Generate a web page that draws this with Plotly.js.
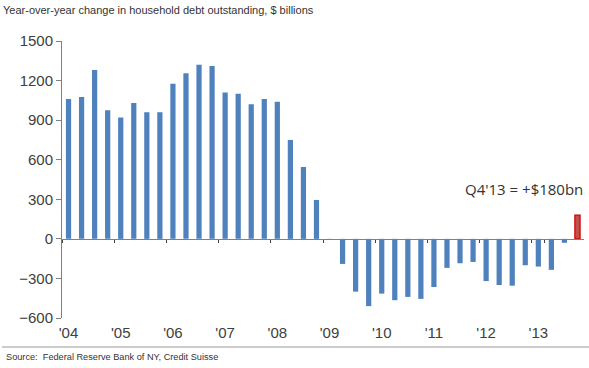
<!DOCTYPE html>
<html>
<head>
<meta charset="utf-8">
<script src="https://cdn.plot.ly/plotly-3.0.1.min.js"></script>
<style>
  html, body { margin: 0; padding: 0; background: #ffffff; }
  #chart { width: 589px; height: 368px; }
</style>
</head>
<body>
<div id="chart"></div>
<script>
// Quarterly categories, Q1 2004 .. Q4 2013
const quarters = [
  "Q1'04","Q2'04","Q3'04","Q4'04",
  "Q1'05","Q2'05","Q3'05","Q4'05",
  "Q1'06","Q2'06","Q3'06","Q4'06",
  "Q1'07","Q2'07","Q3'07","Q4'07",
  "Q1'08","Q2'08","Q3'08","Q4'08",
  "Q1'09","Q2'09","Q3'09","Q4'09",
  "Q1'10","Q2'10","Q3'10","Q4'10",
  "Q1'11","Q2'11","Q3'11","Q4'11",
  "Q1'12","Q2'12","Q3'12","Q4'12",
  "Q1'13","Q2'13","Q3'13","Q4'13"
];

// Year-over-year change in household debt outstanding, $ billions
const yoyChange = [
  1060, 1075, 1280, 975,
  920, 1030, 960, 960,
  1175, 1255, 1320, 1310,
  1110, 1100, 1020, 1060,
  1040, 750, 545, 295,
  -6, -190, -400, -510,
  -415, -465, -440, -455,
  -365, -220, -185, -175,
  -320, -350, -355, -200,
  -210, -235, -30, 180
];

// Year tick labels, placed on the first quarter of each year
const yearTickQuarters = ["Q1'04","Q1'05","Q1'06","Q1'07","Q1'08","Q1'09","Q1'10","Q1'11","Q1'12","Q1'13"];
const yearTickText = ["'04","'05","'06","'07","'08","'09","'10","'11","'12","'13"];

const yTickVals = [-600, -300, 0, 300, 600, 900, 1200, 1500];

const BLUE = "#4F81BD";
const RED_FILL = "#C0504D";
const RED_LINE = "#D00000";
const lastIdx = yoyChange.length - 1;
const barColors = yoyChange.map((v, i) => i === lastIdx ? RED_FILL : BLUE);
const lineColors = yoyChange.map((v, i) => i === lastIdx ? RED_LINE : BLUE);
const lineWidths = yoyChange.map((v, i) => i === lastIdx ? 1.2 : 0);

const yMin = -600, yMax = 1500;

// figure geometry (px) used to place free text in paper coordinates
const W = 589, H = 368;
const M = { l: 62, r: 5, t: 41, b: 50 };
const PW = W - M.l - M.r, PH = H - M.t - M.b;
const px2x = px => (px - M.l) / PW;
const py2y = py => (H - M.b - py) / PH;

const trace = {
  type: "bar",
  x: quarters,
  y: yoyChange,
  width: 0.4,
  marker: { color: barColors, line: { color: lineColors, width: lineWidths } },
  hoverinfo: "x+y"
};

const layout = {
  width: W,
  height: H,
  margin: M,
  paper_bgcolor: "#ffffff",
  plot_bgcolor: "#ffffff",
  showlegend: false,
  font: { family: "Liberation Sans, Arial, sans-serif", color: "#404040" },
  xaxis: {
    type: "category",
    range: [-0.5, quarters.length - 0.5],
    anchor: "free",
    position: (0 - yMin) / (yMax - yMin),
    tickmode: "array",
    tickvals: yearTickQuarters,
    ticktext: yearTickText,
    tickson: "boundaries",
    tickangle: 0,
    ticks: "outside",
    ticklen: 3,
    tickwidth: 1,
    tickcolor: "#404040",
    showline: true,
    linecolor: "#808080",
    linewidth: 1,
    showgrid: false,
    zeroline: false,
    ticklabelstandoff: 80,
    tickfont: { size: 15, color: "#404040" },
    fixedrange: true
  },
  yaxis: {
    range: [yMin, yMax],
    tickmode: "array",
    tickvals: yTickVals,
    ticks: "outside",
    ticklen: 5,
    tickcolor: "#808080",
    showline: true,
    linecolor: "#808080",
    linewidth: 1,
    showgrid: false,
    zeroline: false,
    tickfont: { size: 15, color: "#404040" },
    fixedrange: true
  },
  annotations: [
    {
      xref: "paper", yref: "paper", x: px2x(1), y: py2y(10),
      xanchor: "left", yanchor: "middle",
      text: "Year-over-year change in household debt outstanding, $ billions",
      showarrow: false,
      font: { size: 11, color: "#333333" }
    },
    {
      xref: "paper", yref: "paper", x: px2x(4), y: py2y(357),
      xanchor: "left", yanchor: "middle",
      text: "Source:  Federal Reserve Bank of NY, Credit Suisse",
      showarrow: false,
      font: { size: 9.2, color: "#333333" }
    },
    {
      xref: "x", yref: "y", x: quarters[lastIdx], y: 378,
      xanchor: "right", yanchor: "middle",
      xshift: 8,
      text: "Q4'13 = +$180bn",
      showarrow: false,
      font: { size: 15, color: "#333333", family: "Open Sans, sans-serif" }
    }
  ],
  shapes: [
    {
      type: "line", xref: "paper", yref: "paper",
      x0: px2x(2), x1: px2x(589), y0: py2y(347), y1: py2y(347),
      line: { color: "#999999", width: 1 }
    }
  ]
};

Plotly.newPlot("chart", [trace], layout, { displayModeBar: false, staticPlot: true });
</script>
</body>
</html>
